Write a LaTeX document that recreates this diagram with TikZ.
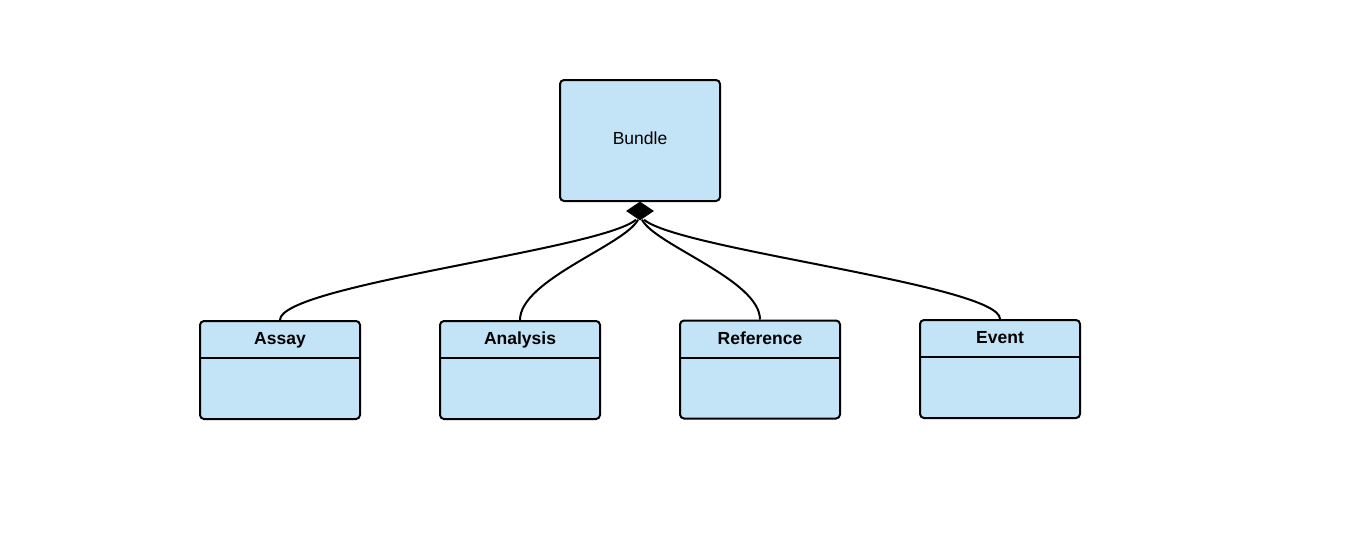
\documentclass[tikz,border=0pt]{standalone}
\usepackage{fontspec}
\setmainfont{Liberation Sans}
\usetikzlibrary{shapes.geometric}
\definecolor{boxblue}{HTML}{C3E4F6}
\begin{document}
\begin{tikzpicture}[x=1pt,y=-1pt,
  bundlebox/.style={draw=black,line width=2pt,fill=boxblue,rounded corners=4pt,minimum width=160pt,minimum height=121pt,inner sep=0pt},
  classbox/.style={draw=black,line width=2pt,fill=boxblue,rounded corners=4pt,minimum width=160pt,minimum height=98pt,inner sep=0pt},
  bundletext/.style={inner sep=0pt,anchor=base,font=\fontsize{17.5}{21}\selectfont},
  classtitle/.style={inner sep=0pt,anchor=base,font=\fontsize{17.5}{21}\selectfont\bfseries},
  conn/.style={draw=black,line width=2pt},
  aggmark/.style={diamond,fill=black,inner sep=0pt,minimum width=28pt,minimum height=19pt}]
\useasboundingbox (0,0) rectangle (1360,541);
\node[bundlebox] (bundle) at (640,140.5) {};
\node[bundletext] (bundlet) at (640,144) {Bundle};
\node[aggmark] (agg) at (640,211) {};
\node[classbox] (assay) at (280,370) {};
\node[classbox] (analysis) at (520,370) {};
\node[classbox] (reference) at (760,369.5) {};
\node[classbox] (event) at (1000,369) {};
\node[classtitle] (assayt) at (280,344) {Assay};
\node[classtitle] (analysist) at (520,344) {Analysis};
\node[classtitle] (referencet) at (760,344) {Reference};
\node[classtitle] (eventt) at (1000,343) {Event};
\foreach \n in {assay,analysis,reference,event}{
  \draw[line width=2pt] (\n.north west) ++(0pt,-38pt) -- ++(160pt,0pt);
}
\draw[conn] (assay.north) .. controls (280,285) and (600,250) .. ([xshift=-4pt,yshift=1pt]agg.south);
\draw[conn] (analysis.north) .. controls (520,280) and (625,245) .. ([xshift=-2pt,yshift=1pt]agg.south);
\draw[conn] (reference.north) .. controls (760,280) and (655,245) .. ([xshift=2pt,yshift=1pt]agg.south);
\draw[conn] (event.north) .. controls (1000,285) and (680,250) .. ([xshift=4pt,yshift=1pt]agg.south);
\end{tikzpicture}
\end{document}
